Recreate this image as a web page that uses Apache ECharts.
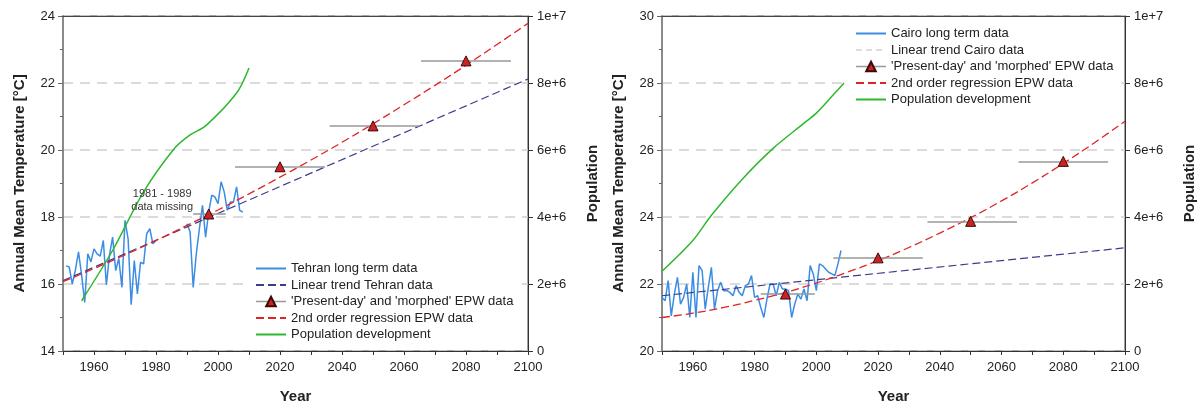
<!DOCTYPE html>
<html><head><meta charset="utf-8">
<script src="https://cdn.jsdelivr.net/npm/echarts@6/dist/echarts.min.js"></script>
<style>html,body{margin:0;padding:0;background:#fff}#c{width:1198px;height:409px}</style>
</head><body><div id="c"></div>
<script>
// ---------- DATA ----------
const tehranYears = [1951,1952,1953,1954,1955,1956,1957,1958,1959,1960,1961,1962,1963,1964,1965,1966,1967,1968,1969,1970,1971,1972,1973,1974,1975,1976,1977,1978,1979,1980,1981,1982,1983,1984,1985,1986,1987,1988,1989,1990,1991,1992,1993,1994,1995,1996,1997,1998,1999,2000,2001,2002,2003,2004,2005,2006,2007,2008];
const tehranTemp = [16.54,16.51,16.0,16.42,16.96,16.27,15.45,16.9,16.66,17.05,16.9,16.83,17.3,15.97,16.86,17.4,16.4,16.76,15.9,17.9,17.35,15.38,16.7,15.7,16.65,16.6,17.5,17.65,17.2,17.3,null,null,null,null,null,null,null,null,null,17.8,17.55,15.9,16.9,17.65,18.35,17.4,18.15,18.65,18.6,18.4,19.05,18.75,18.2,18.45,18.45,18.9,18.2,18.15];
const tehranTrendYears = [1950, 2100];
const tehranTrendTemp = [16.1, 22.12];
const tehranEpwYears = [1997, 2020, 2050, 2080];
const tehranEpwTemp = [18.09, 19.5, 20.72, 22.66];
const tehranEpwStart = [1992, 2005.5, 2036, 2065.5];
const tehranEpwEnd = [2002.5, 2034.5, 2065, 2094.5];
const regYears = [1950,1960,1970,1980,1990,2000,2010,2020,2030,2040,2050,2060,2070,2080,2090,2100];
const tehranRegTemp = [16.07,16.46,16.87,17.30,17.75,18.21,18.69,19.19,19.70,20.23,20.78,21.35,21.93,22.53,23.15,23.78];
const tehranPopYears = [1956,1966,1976,1986,1991,1996,2006,2010];
const tehranPop = [1.5e6,3.0e6,4.75e6,6.05e6,6.45e6,6.72e6,7.7e6,8.45e6];

const cairoYears = [1950,1951,1952,1953,1954,1955,1956,1957,1958,1959,1960,1961,1962,1963,1964,1965,1966,1967,1968,1969,1970,1971,1972,1973,1974,1975,1976,1977,1978,1979,1980,1981,1982,1983,1984,1985,1986,1987,1988,1989,1990,1991,1992,1993,1994,1995,1996,1997,1998,1999,2000,2001,2002,2003,2004,2005,2006,2007,2008];
const cairoTemp = [21.6,21.5,22.1,21.05,21.7,22.2,21.4,21.6,22.0,21.0,22.35,21.0,22.55,22.4,21.25,21.9,22.5,21.25,21.8,22.05,21.8,21.8,21.75,21.65,21.95,21.75,21.65,21.95,22.0,22.25,21.6,21.65,21.3,21.0,21.55,22.0,22.0,21.65,22.05,21.85,21.85,21.8,21.0,21.4,21.7,21.55,21.85,21.5,22.55,22.3,21.8,22.6,22.55,22.45,22.35,22.3,22.25,22.6,23.0];
const cairoTrendYears = [1950, 2100];
const cairoTrendTemp = [21.65, 23.08];
const cairoEpwYears = [1990, 2020, 2050, 2080];
const cairoEpwTemp = [21.7, 22.78, 23.87, 25.66];
const cairoEpwStart = [1982, 2005.5, 2036, 2065.5];
const cairoEpwEnd = [1999.5, 2034.5, 2065, 2094.5];
const cairoRegTemp = [21.00,21.13,21.30,21.51,21.75,22.03,22.35,22.70,23.09,23.52,23.98,24.48,25.02,25.60,26.21,26.86];
const cairoPopYears = [1950,1960,1966,1976,1986,1996,2000,2006,2009];
const cairoPop = [2.38e6,3.3e6,4.05e6,5.13e6,6.05e6,6.8e6,7.1e6,7.7e6,8.0e6];

const xTicks = [1960,1980,2000,2020,2040,2060,2080,2100];

// ---------- CHART ----------
const FONT = '"Liberation Sans", Arial, sans-serif';
const pairs = (xs, ys) => xs.map((x, i) => [x, ys[i]]);
const EPW = "'Present-day' and 'morphed' EPW data";
const REG = '2nd order regression EPW data';
const POP = 'Population development';

function xAx(g) {
  return {
    type: 'value', gridIndex: g, min: 1950, max: 2100, interval: 10,
    name: 'Year', nameLocation: 'middle', nameGap: 38,
    nameTextStyle: { fontFamily: FONT, fontWeight: 'bold', fontSize: 15, color: '#222' },
    axisLine: { show: true, lineStyle: { color: '#333', width: 1 } },
    axisTick: { show: true, length: 4, lineStyle: { color: '#333' } },
    axisLabel: { formatter: v => (xTicks.indexOf(v) >= 0 ? String(v) : ''), fontFamily: FONT, fontSize: 13, color: '#222', margin: 10 },
    splitLine: { show: false }
  };
}
function xTop(g) {
  return {
    type: 'value', gridIndex: g, position: 'top', min: 1950, max: 2100, z: 10,
    axisLine: { show: true, onZero: false, lineStyle: { color: '#444', width: 1 } },
    axisTick: { show: false }, axisLabel: { show: false }, splitLine: { show: false }
  };
}
function yTemp(g, min, max) {
  return {
    type: 'value', gridIndex: g, position: 'left', min, max, interval: 2,
    name: 'Annual Mean Temperature [°C]', nameLocation: 'middle', nameGap: 36, nameRotate: 90,
    nameTextStyle: { fontFamily: FONT, fontWeight: 'bold', fontSize: 15, color: '#222' },
    axisLine: { show: true, lineStyle: { color: '#8a8a8a', width: 2 } },
    axisTick: { show: true, length: 5, lineStyle: { color: '#666' } },
    minorTick: { show: true, splitNumber: 2, length: 3, lineStyle: { color: '#666' } },
    axisLabel: { fontFamily: FONT, fontSize: 13, color: '#222', margin: 8 },
    splitLine: { show: true, lineStyle: { color: '#cfcfcf', type: [10, 7], width: 1.5 } }
  };
}
function yPop(g) {
  return {
    type: 'value', gridIndex: g, position: 'right', min: 0, max: 1e7, interval: 2e6, z: 10,
    name: 'Population', nameLocation: 'middle', nameGap: 57, nameRotate: 90,
    nameTextStyle: { fontFamily: FONT, fontWeight: 'bold', fontSize: 15, color: '#222' },
    axisLine: { show: true, lineStyle: { color: '#333', width: 1 } },
    axisTick: { show: true, length: 5, lineStyle: { color: '#333' } },
    axisLabel: {
      fontFamily: FONT, fontSize: 13, color: '#222', margin: 9,
      formatter: v => { if (v === 0) return '0'; const e = Math.floor(Math.log10(v)); return Math.round(v / Math.pow(10, e)) + 'e+' + e; }
    },
    splitLine: { show: false }
  };
}
function chartSeries(g, o) {
  return [
    { type: 'line', name: o.dataName, xAxisIndex: g, yAxisIndex: 2 * g, data: pairs(o.years, o.temp), symbol: 'none', connectNulls: false,
      lineStyle: { color: '#3b8de3', width: 1.5 }, itemStyle: { color: '#3b8de3' }, z: 3, animation: false,
      markPoint: o.note ? { silent: true, symbol: 'circle', symbolSize: 1, itemStyle: { color: 'rgba(0,0,0,0)' },
        data: [{ coord: o.note.coord, label: { show: true, position: 'inside', formatter: o.note.text, fontFamily: FONT, fontSize: 11, lineHeight: 13, color: '#333' } }] } : undefined },
    { type: 'line', name: o.trendName, xAxisIndex: g, yAxisIndex: 2 * g, data: pairs(o.trendYears, o.trendTemp), symbol: 'none',
      lineStyle: { color: '#3c3c8e', width: 1.2, type: [8, 4] }, itemStyle: { color: '#3c3c8e' }, z: 4, animation: false },
    { type: 'line', name: REG, xAxisIndex: g, yAxisIndex: 2 * g, data: pairs(regYears, o.reg), symbol: 'none', smooth: true,
      lineStyle: { color: '#e02424', width: 1.3, type: [8, 4] }, itemStyle: { color: '#e02424' }, z: 5, animation: false },
    { type: 'line', name: POP, xAxisIndex: g, yAxisIndex: 2 * g + 1, data: pairs(o.popYears, o.pop), symbol: 'none', smooth: 0.3,
      lineStyle: { color: '#2eb82e', width: 1.5 }, itemStyle: { color: '#2eb82e' }, z: 3, animation: false },
    { type: 'lines', coordinateSystem: 'cartesian2d', xAxisIndex: g, yAxisIndex: 2 * g, silent: true, z: 6, animation: false,
      data: o.epwTemp.map((t, i) => ({ coords: [[o.epwStart[i], t], [o.epwEnd[i], t]] })),
      lineStyle: { color: '#999', width: 1.5, opacity: 1 } },
    { type: 'line', name: EPW, xAxisIndex: g, yAxisIndex: 2 * g, data: pairs(o.epwYears, o.epwTemp), symbol: 'triangle', symbolSize: 10, showSymbol: true,
      lineStyle: { opacity: 0, color: '#999' }, itemStyle: { color: '#cc2222', borderColor: '#3a0a0a', borderWidth: 1 }, z: 10, animation: false }
  ];
}
function legend(left, top, dataName, trendName, trendLegendStyle) {
  const hide = { opacity: 0 };
  return {
    orient: 'vertical', left, top, itemWidth: 30, itemHeight: 12, itemGap: 3.5,
    backgroundColor: '#fff', padding: [3, 8, 3, 8], selectedMode: false,
    textStyle: { fontFamily: FONT, fontSize: 13, color: '#222' },
    data: [
      { name: dataName, itemStyle: hide },
      trendLegendStyle ? { name: trendName, itemStyle: hide, lineStyle: trendLegendStyle } : { name: trendName, itemStyle: hide },
      { name: EPW, itemStyle: { opacity: 1 }, lineStyle: { opacity: 1, color: '#999', width: 1.5 } },
      { name: REG, itemStyle: hide },
      { name: POP, itemStyle: hide }
    ]
  };
}

const chart = echarts.init(document.getElementById('c'), null, { renderer: 'canvas' });
chart.setOption({
  animation: false,
  backgroundColor: '#fff',
  textStyle: { fontFamily: FONT },
  grid: [
    { left: 63, right: 670, top: 16, bottom: 56, show: true, borderColor: '#444', borderWidth: 1, backgroundColor: 'rgba(0,0,0,0)' },
    { left: 662, right: 71, top: 16, bottom: 56, show: true, borderColor: '#444', borderWidth: 1, backgroundColor: 'rgba(0,0,0,0)' }
  ],
  xAxis: [xAx(0), xAx(1), xTop(0), xTop(1)],
  yAxis: [yTemp(0, 14, 24), yPop(0), yTemp(1, 20, 30), yPop(1)],
  legend: [
    legend(247, 259, 'Tehran long term data', 'Linear trend Tehran data'),
    legend(847, 24, 'Cairo long term data', 'Linear trend Cairo data', { color: '#bbbbbb', type: [6, 4], width: 1.2 })
  ],
  series: [].concat(
    chartSeries(0, { dataName: 'Tehran long term data', years: tehranYears, temp: tehranTemp,
      trendName: 'Linear trend Tehran data', trendYears: tehranTrendYears, trendTemp: tehranTrendTemp,
      reg: tehranRegTemp, popYears: tehranPopYears, pop: tehranPop,
      epwYears: tehranEpwYears, epwTemp: tehranEpwTemp, epwStart: tehranEpwStart, epwEnd: tehranEpwEnd,
      note: { coord: [1982, 18.5], text: '1981 - 1989\ndata missing' } }),
    chartSeries(1, { dataName: 'Cairo long term data', years: cairoYears, temp: cairoTemp,
      trendName: 'Linear trend Cairo data', trendYears: cairoTrendYears, trendTemp: cairoTrendTemp,
      reg: cairoRegTemp, popYears: cairoPopYears, pop: cairoPop,
      epwYears: cairoEpwYears, epwTemp: cairoEpwTemp, epwStart: cairoEpwStart, epwEnd: cairoEpwEnd })
  )
});
</script></body></html>
